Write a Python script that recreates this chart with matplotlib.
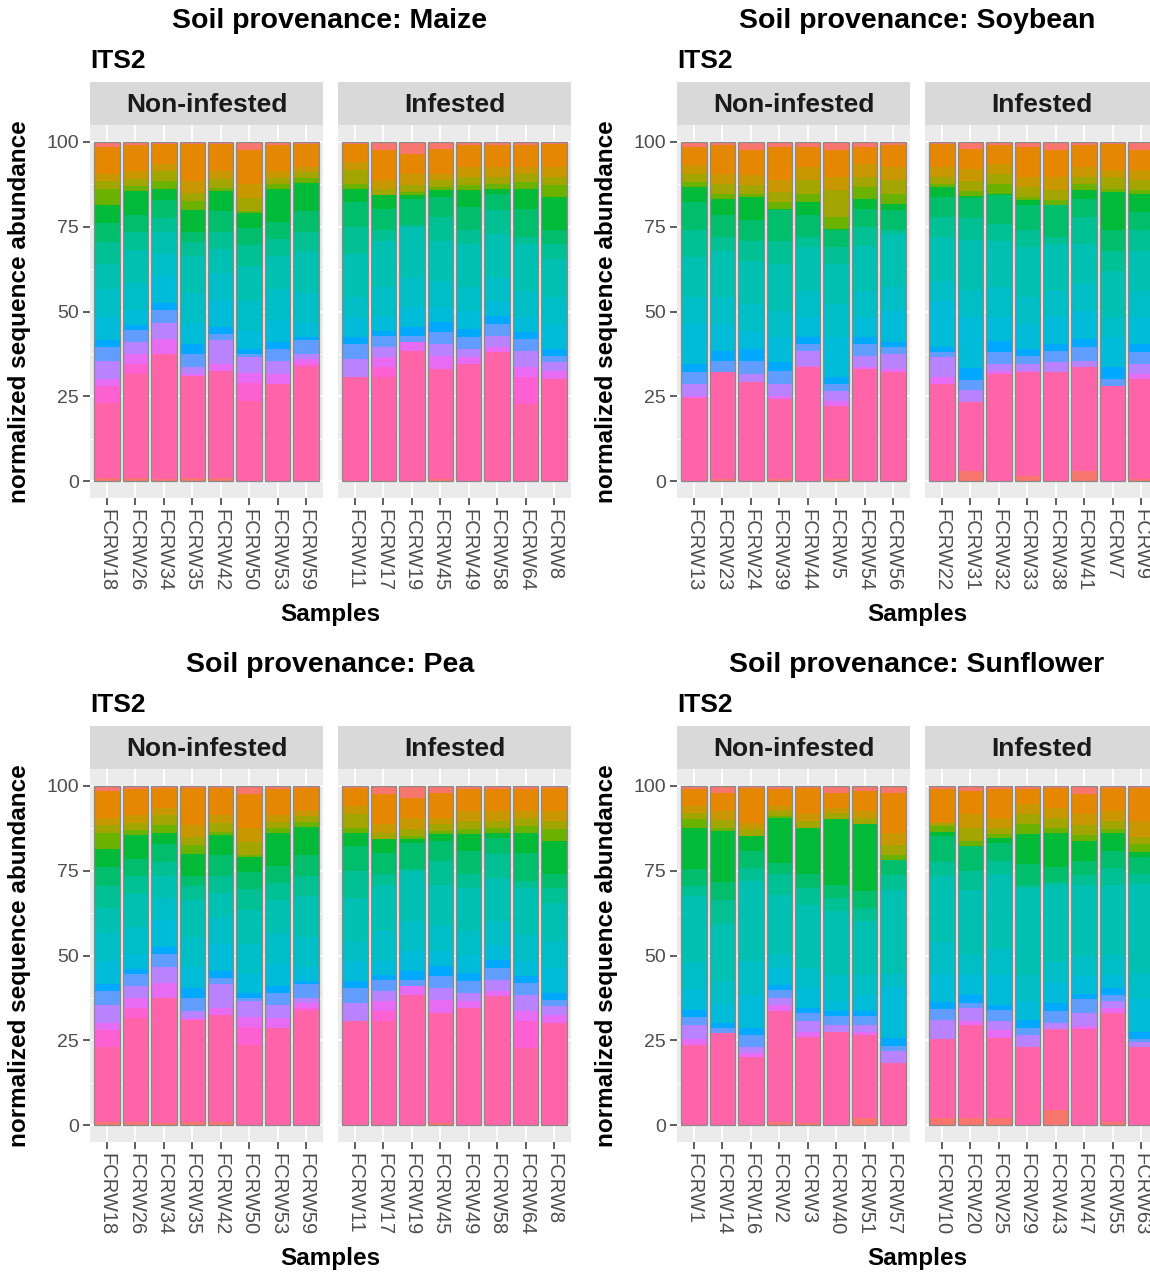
import numpy as np
import matplotlib
matplotlib.use("Agg")
import matplotlib.pyplot as plt

plt.rcParams['font.family'] = ['Liberation Sans', 'DejaVu Sans']

# taxa colours, top of the stack first (ggplot hue palette look)
taxa_colors = ["#F8766D", "#E58700", "#C99800", "#A3A500", "#6BB100", "#00BA38",
               "#00BE6C", "#00C094", "#00C0B2", "#00BEC6", "#00BCD8", "#00A9FF",
               "#619CFF", "#B983FF", "#E76BF3", "#FD61D1", "#FF64A8", "#F8766D"]

# ---- Maize ----
maize_non_samples = ["FCRW18", "FCRW26", "FCRW34", "FCRW35", "FCRW42", "FCRW50", "FCRW53", "FCRW59"]
maize_non_values = [
    [1.5, 8, 2, 2.5, 4.5, 5.5, 5.5, 6.5, 7.5, 8, 7, 2, 4, 5.5, 2, 5, 22, 1],
    [1, 7.5, 2.5, 2, 1.5, 7, 5, 5.5, 9.5, 8, 4.5, 1.5, 3.5, 3.5, 3, 3, 30.5, 1],
    [0.5, 6, 2, 3, 2.5, 3, 5.5, 4, 6.5, 6.5, 8, 2, 4, 4.5, 4.5, 0, 37, 0.5],
    [0.5, 11, 3.5, 2.5, 2.5, 6.5, 3, 4, 11, 9, 6, 3, 4, 2, 0.5, 0, 30, 1],
    [0.5, 8, 2.5, 2.5, 1, 6, 6, 5, 7, 8, 8, 2, 2, 7, 2, 0, 31.5, 1],
    [2.5, 10, 4, 4, 0.5, 4.5, 5, 6, 10, 9, 5.5, 1.5, 1, 4.5, 3, 5.5, 23.5, 0],
    [1, 7.5, 2, 2, 1.5, 9.5, 5, 5, 10, 9, 6.5, 2, 3.5, 4, 3, 0, 28.5, 0],
    [0.5, 7, 1.5, 1.5, 1.5, 8.5, 6, 6, 12, 9, 4, 1, 4, 1.5, 1.5, 1, 33.5, 0],
]
maize_inf_samples = ["FCRW11", "FCRW17", "FCRW19", "FCRW45", "FCRW49", "FCRW58", "FCRW64", "FCRW8"]
maize_inf_values = [
    [0.5, 5.5, 2.5, 4, 1.5, 4, 7.5, 8, 13, 6, 6, 2, 4.5, 5.5, 0, 0, 31, 0],
    [2.5, 9, 2.5, 2, 0, 4, 6.5, 3, 14, 9, 4, 1.5, 3.5, 3, 3, 3, 31, 0],
    [3.5, 6, 3.5, 2, 1, 1, 8, 0.5, 15, 9, 6, 2.5, 2, 0, 2.5, 0, 39, 0],
    [2, 7.5, 2, 2, 1, 2, 6, 7, 12, 8, 4.5, 3, 3.5, 3.5, 4, 0, 33, 0.5],
    [1, 6.5, 3, 2.5, 1.5, 5, 7, 4, 13, 7, 5.5, 2.5, 3.5, 2.5, 2, 0, 35, 0],
    [1, 6.5, 3, 2, 1.5, 1.5, 5, 7, 13, 7, 4.5, 2.5, 3.5, 3.5, 1.5, 0, 38.5, 0],
    [1, 6.5, 2, 2.5, 2, 6, 8.5, 2, 14, 8, 4.5, 2, 3.5, 5, 3, 8, 23, 0],
    [0.5, 7, 3, 2.5, 3.5, 10, 4, 4.5, 11.5, 8, 7.5, 2, 2, 2.5, 2.5, 0, 30.5, 0],
]

# ---- Soybean ----
soy_non_samples = ["FCRW13", "FCRW23", "FCRW24", "FCRW39", "FCRW44", "FCRW5", "FCRW54", "FCRW56"]
soy_non_values = [
    [1.5, 5.5, 2.5, 2.5, 1.5, 4.5, 8.5, 8, 12, 8, 12, 2.5, 3.5, 3.5, 0.5, 0, 25, 0],
    [1, 8.5, 3, 3, 1.5, 5, 6.5, 4, 14, 8, 8, 3, 3.5, 0, 0, 0, 32, 0.5],
    [2.5, 7.5, 3, 2.5, 1, 7, 6, 6, 13, 8, 5.5, 3.5, 4, 2.5, 0, 0, 29.5, 0],
    [1.5, 10, 3.5, 3, 2, 0.5, 9, 7, 14, 8, 7.5, 2.5, 4, 3.5, 1, 0, 24, 0.5],
    [1.5, 6, 4, 4, 2.5, 4, 6.5, 3, 13, 8, 6, 2, 2, 4.5, 0.5, 0, 34, 0],
    [2.5, 8, 4, 8, 3.5, 0.5, 5, 5, 12, 10, 12, 2, 2, 3, 1.5, 0, 22, 0.5],
    [1.5, 5, 4, 3, 3.5, 3, 5.5, 5.5, 13.5, 8, 6, 2, 3.5, 3.5, 0.5, 0, 33.5, 0],
    [1, 6.5, 4, 4, 3, 2, 6, 1, 16, 7, 9.5, 1.5, 2, 4.5, 1, 0, 32.5, 0],
]
soy_inf_samples = ["FCRW22", "FCRW31", "FCRW32", "FCRW33", "FCRW38", "FCRW41", "FCRW7", "FCRW9"]
soy_inf_values = [
    [0.5, 7, 3, 2, 1, 3, 6, 6, 13, 6, 14, 1.5, 1.5, 6, 2, 0, 29, 0],
    [2, 6, 3.5, 3, 1.5, 0.5, 6, 6.5, 15, 8, 15, 3.5, 3, 3.5, 0, 0, 20.5, 3],
    [1, 5.5, 3, 3, 3, 0.5, 8.5, 5, 14, 9, 7, 3.5, 3.5, 2, 1, 0, 32, 0],
    [1.5, 9, 3, 3, 1, 1.5, 7.5, 5, 15, 8, 7.5, 2, 2.5, 2, 0.5, 0, 31, 1.5],
    [2.5, 8, 4, 3, 1.5, 0, 9.5, 2, 14, 8, 8, 2, 3.5, 3, 0, 0, 32.5, 0],
    [1, 6.5, 3, 2, 2, 2.5, 5.5, 8, 12, 8, 8.5, 2.5, 4, 2, 0, 0, 31, 3],
    [0.5, 8, 2, 3.5, 1, 11.5, 6, 6, 14, 6, 9, 3.5, 2, 0, 0, 0, 28.5, 0],
    [2.5, 6, 3, 3, 1, 5.5, 5.5, 6, 12, 8, 8, 2.5, 3.5, 3, 1.5, 0, 30, 0.5],
]

# ---- Pea (same samples and profiles as the Maize panel) ----
pea_non_samples = maize_non_samples
pea_non_values = maize_non_values
pea_inf_samples = maize_inf_samples
pea_inf_values = maize_inf_values

# ---- Sunflower ----
sun_non_samples = ["FCRW1", "FCRW14", "FCRW16", "FCRW2", "FCRW3", "FCRW40", "FCRW51", "FCRW57"]
sun_non_values = [
    [1, 5, 2, 2, 2.5, 12.5, 5, 3, 20, 8, 6.5, 2, 2.5, 4, 2, 0, 24, 0],
    [2, 5.5, 2.5, 2.5, 1, 15, 5.5, 7, 17, 7, 5.5, 1.5, 1.5, 0, 0, 0, 27.5, 0],
    [0.5, 10.5, 2, 2, 0, 4.5, 5, 4, 24, 10, 10, 2, 3.5, 2, 1, 0, 20.5, 0],
    [1, 5, 1.5, 1.5, 0.5, 13.5, 3.5, 6, 18, 4, 5, 1.5, 2.5, 2, 2, 0, 33, 1],
    [0.5, 8, 2, 2, 0, 14, 4, 5, 19, 6, 6, 1.5, 2.5, 3, 1.5, 0, 26, 0.5],
    [2, 4.5, 1.5, 2, 0, 19.5, 4, 4, 19, 8, 3, 1.5, 2.5, 2, 0, 0, 28, 0],
    [1.5, 6, 2, 2, 0, 20, 5, 4, 16, 6, 5, 1.5, 2.5, 2, 1, 0, 25, 2],
    [2, 12, 3.5, 3, 1.5, 0, 4.5, 4.5, 25, 4, 15, 2.5, 1.5, 3.5, 0, 0, 18.5, 0],
]
sun_inf_samples = ["FCRW10", "FCRW20", "FCRW25", "FCRW29", "FCRW43", "FCRW47", "FCRW55", "FCRW63"]
sun_inf_values = [
    [1, 10, 0, 1, 2, 1, 8, 4, 20, 10, 8, 2, 3.5, 5.5, 0, 0, 24, 2],
    [1.5, 7, 4, 4, 1.5, 0, 7.5, 5.5, 19.5, 6, 6, 2.5, 1.5, 4, 1, 0, 28, 2],
    [1, 8.5, 3, 2, 1, 1.5, 5.5, 4, 22, 8, 9, 1.5, 3.5, 2.5, 2.5, 0, 24, 2],
    [1, 4.5, 3, 3, 3, 9, 6, 1, 26, 8, 5.5, 2.5, 2, 3.5, 0, 0, 23.5, 0],
    [0.5, 6, 3, 3, 1.5, 10, 4.5, 1, 23, 6, 6, 2.5, 3.5, 2, 0, 0, 24, 4.5],
    [2.5, 6, 3, 3, 2, 6, 4, 3, 21, 6, 5.5, 1.5, 4, 4, 1, 0, 28.5, 0],
    [0.5, 7, 3, 2.5, 1, 5.5, 5, 5, 21, 6, 4, 2, 2, 2, 1.5, 0, 32.5, 1],
    [0.5, 10, 5, 2, 2.5, 1.5, 5, 3, 27, 8, 10, 2, 1, 1.5, 0, 0, 23.5, 0],
]

W, H = 1150, 1273
fig = plt.figure(figsize=(W / 100, H / 100), dpi=100)


def box(x0, y0, w, h):
    # pixel box (top-left origin) -> figure fraction
    return [x0 / W, 1 - (y0 + h) / H, w / W, h / H]


def draw_facet(ax, samples, values, show_y):
    vals = np.array(values, dtype=float)
    vals = vals / vals.sum(axis=1, keepdims=True) * 100
    x = np.arange(1, len(samples) + 1)
    bottom = np.zeros(len(samples))
    for k in range(vals.shape[1] - 1, -1, -1):
        ax.bar(x, vals[:, k], width=0.9, bottom=bottom, color=taxa_colors[k], linewidth=0, zorder=2)
        bottom += vals[:, k]
    ax.bar(x, bottom, width=0.9, fill=False, edgecolor="#8A8A8A", linewidth=0.9, zorder=3)
    ax.set_xlim(0.4, len(samples) + 0.6)
    ax.set_ylim(-5, 105)
    ax.set_facecolor("#EBEBEB")
    ax.set_axisbelow(True)
    ax.set_yticks([0, 25, 50, 75, 100])
    ax.set_yticks([12.5, 37.5, 62.5, 87.5], minor=True)
    ax.set_xticks(x)
    ax.set_xticklabels(samples, rotation=270, ha="center", va="top")
    ax.grid(which="major", color="white", linewidth=1.3, zorder=0)
    ax.grid(which="minor", axis="y", color="white", linewidth=0.6, zorder=0)
    for s in ax.spines.values():
        s.set_visible(False)
    ax.tick_params(axis="both", which="major", length=5, width=1.1, color="#333333",
                   labelcolor="#4D4D4D", pad=3)
    ax.tick_params(axis="x", labelsize=14.5)
    ax.tick_params(axis="y", labelsize=14)
    ax.tick_params(axis="both", which="minor", length=0)
    if not show_y:
        ax.tick_params(axis="y", left=False, labelleft=False)


def strip(x0, y0, w, label):
    sax = fig.add_axes(box(x0, y0, w, 43))
    sax.set_facecolor("#D9D9D9")
    sax.set_xticks([])
    sax.set_yticks([])
    for s in sax.spines.values():
        s.set_visible(False)
    sax.text(0.5, 0.47, label, ha="center", va="center", fontsize=19,
             fontweight="bold", color="#1A1A1A", transform=sax.transAxes)


def panel(L, T, crop, non_samples, non_values, inf_samples, inf_values):
    pw, ph, gap = 233, 373, 15
    fig.text((L + 240) / W, 1 - (T - 104) / H, "Soil provenance: " + crop, ha="center",
             va="center", fontsize=20.5, fontweight="bold", color="black")
    fig.text(L / W, 1 - (T - 64) / H, "ITS2", ha="left", va="center", fontsize=19,
             fontweight="bold", color="black")
    strip(L, T - 43, pw, "Non-infested")
    strip(L + pw + gap, T - 43, pw, "Infested")
    ax1 = fig.add_axes(box(L, T, pw, ph))
    draw_facet(ax1, non_samples, non_values, True)
    ax2 = fig.add_axes(box(L + pw + gap, T, pw, ph))
    draw_facet(ax2, inf_samples, inf_values, False)
    fig.text((L - 70) / W, 1 - (T + 187) / H, "normalized sequence abundance", rotation=90,
             ha="center", va="center", fontsize=17.5, fontweight="bold", color="black")
    fig.text((L + 240) / W, 1 - (T + 489) / H, "Samples", ha="center", va="center",
             fontsize=17.5, fontweight="bold", color="black")


panel(90, 125, "Maize", maize_non_samples, maize_non_values, maize_inf_samples, maize_inf_values)
panel(677, 125, "Soybean", soy_non_samples, soy_non_values, soy_inf_samples, soy_inf_values)
panel(90, 769, "Pea", pea_non_samples, pea_non_values, pea_inf_samples, pea_inf_values)
panel(677, 769, "Sunflower", sun_non_samples, sun_non_values, sun_inf_samples, sun_inf_values)

fig.savefig("out.png", dpi=100, facecolor="white")
